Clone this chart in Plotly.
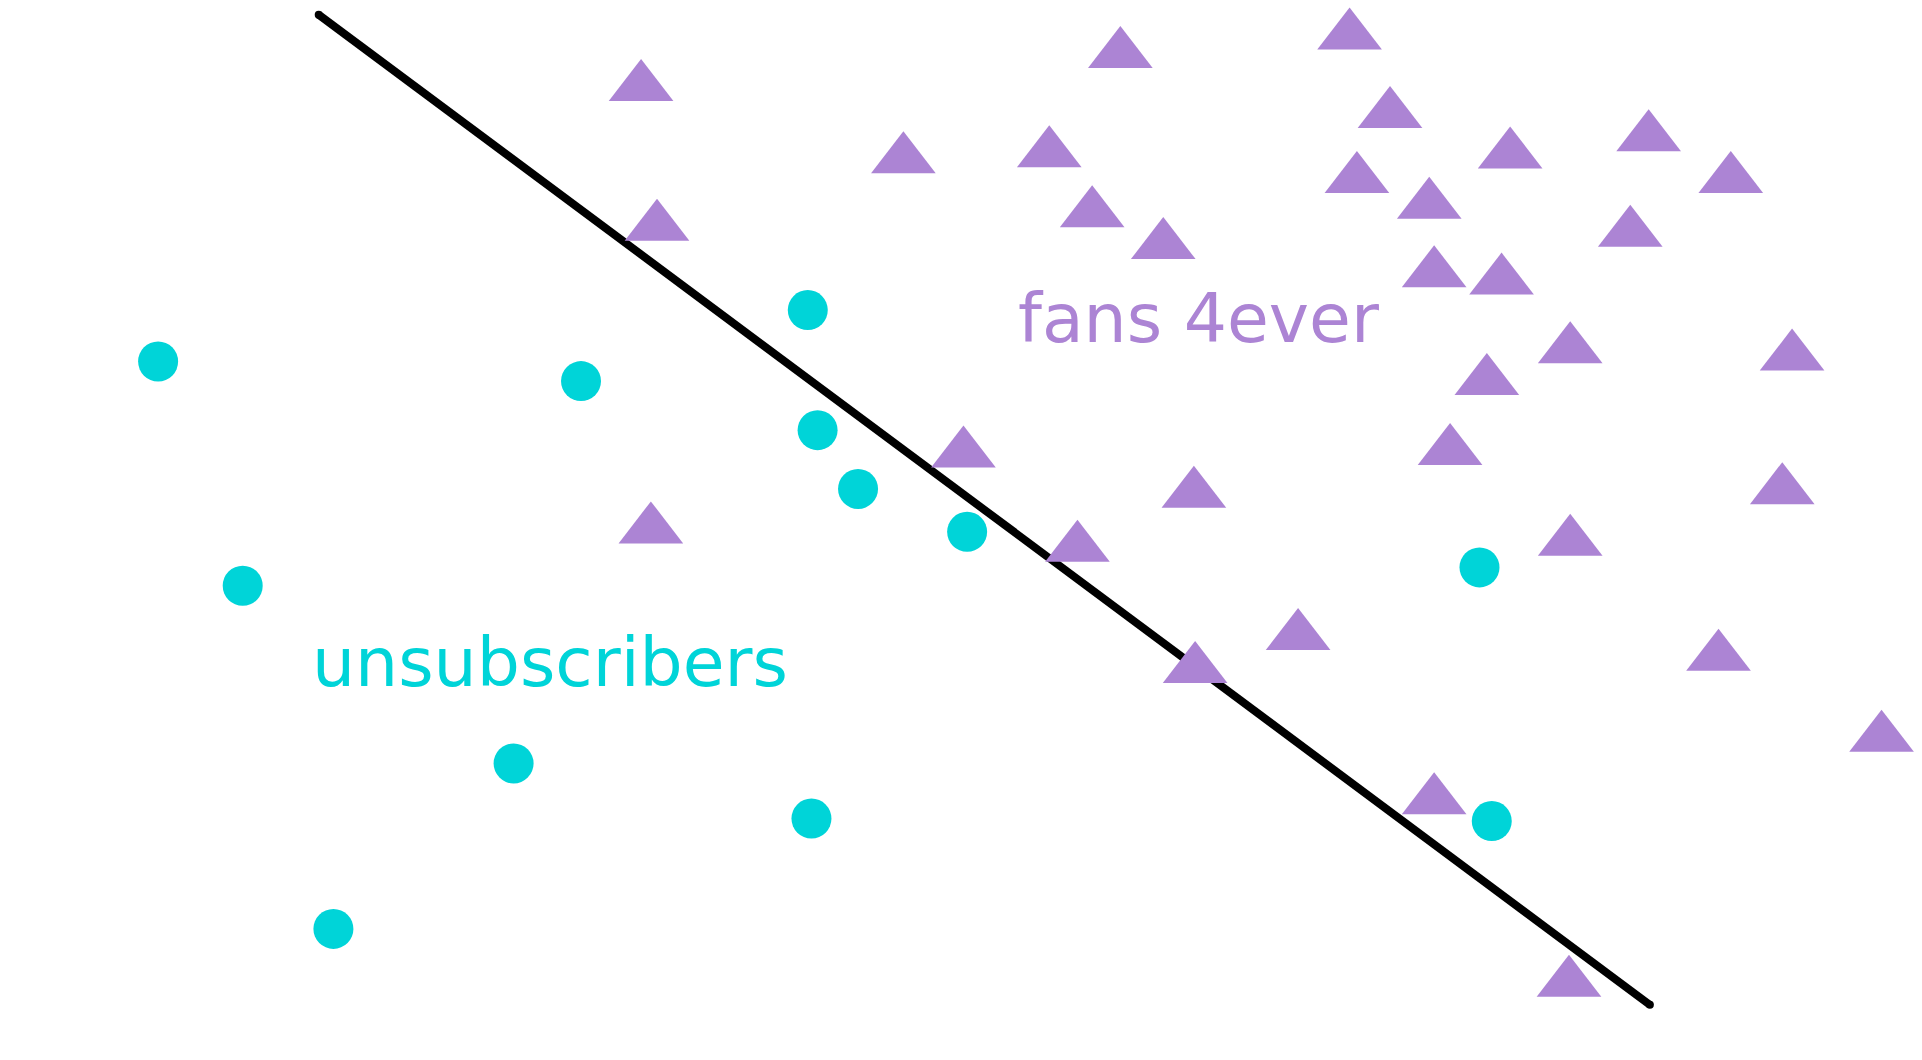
import plotly.graph_objects as go

# Data (in chart units: x 0..1568, y 0..865, y grows downward)
unsub_x = [129, 474, 659, 667, 700, 789, 198, 419, 662, 272, 1207, 1217]
unsub_y = [295, 311, 253, 351, 399, 434, 478, 623, 668, 758, 463, 670]

fans_x = [523, 914, 1101, 1134, 737, 856, 1232, 1345, 1107, 1412, 536, 891, 1166,
          949, 1330, 1170, 1225, 1281, 1462, 1213, 786, 1183, 974, 1454, 531, 879,
          1281, 1059, 975, 1402, 1535, 1170, 1280]
fans_y = [71, 44, 29, 93, 130, 125, 126, 112, 146, 146, 185, 174, 167,
          200, 190, 223, 229, 285, 291, 311, 370, 368, 403, 400, 432, 447,
          442, 519, 546, 536, 602, 653, 802]

boundary_x = [260, 1346]
boundary_y = [12, 820]

labels = ["unsubscribers", "fans 4ever"]
label_x = [449, 978]
label_y = [541, 260]

CYAN = "#00d4d8"
PURPLE = "#ac84d4"

fig = go.Figure()
fig.add_trace(go.Scatter(x=boundary_x, y=boundary_y, mode="lines+markers",
                         line=dict(color="black", width=8),
                         marker=dict(color="black", size=8),
                         hoverinfo="skip", showlegend=False))
fig.add_trace(go.Scatter(x=unsub_x, y=unsub_y, mode="markers",
                         marker=dict(color=CYAN, size=40, symbol="circle", line=dict(width=0)),
                         showlegend=False))
fig.add_trace(go.Scatter(x=fans_x, y=fans_y, mode="markers",
                         marker=dict(color=PURPLE, size=56, symbol="triangle-up", line=dict(width=0)),
                         showlegend=False))

for t, x, y, c in zip(labels, label_x, label_y, [CYAN, PURPLE]):
    fig.add_annotation(x=x, y=y, text=t, showarrow=False, xanchor="center", yanchor="middle",
                       font=dict(family="DejaVu Sans", size=68, color=c))

fig.update_layout(width=1922, height=1060, margin=dict(l=0, r=0, t=0, b=0),
                  paper_bgcolor="white", plot_bgcolor="white",
                  xaxis=dict(range=[0, 1568], visible=False, fixedrange=True),
                  yaxis=dict(range=[865, 0], visible=False, fixedrange=True))

fig.write_html("out.html", config={"displayModeBar": False},
               post_script="document.body.style.margin='0';document.body.style.overflow='hidden';")
